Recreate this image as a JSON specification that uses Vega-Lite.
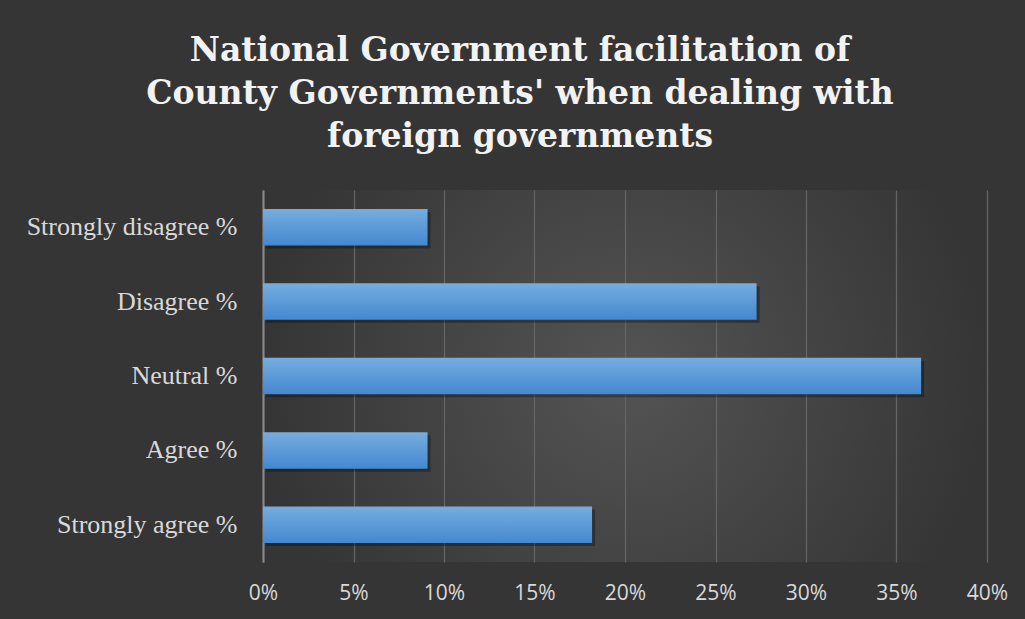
{
  "$schema": "https://vega.github.io/schema/vega-lite/v6.json",
  "width": 724,
  "height": 372,
  "autosize": {"type": "none"},
  "padding": {"left": 263, "top": 190, "right": 38, "bottom": 57},
  "background": "#353535",
  "title": {
    "text": ["National Government facilitation of", "County Governments' when dealing with", "foreign governments"],
    "font": "DejaVu Serif",
    "fontSize": 33,
    "fontWeight": "bold",
    "color": "#f2f2f2",
    "anchor": "middle",
    "dx": -105,
    "offset": 36,
    "lineHeight": 43
  },
  "data": {
    "values": [
      {"category": "Strongly disagree %", "value": 0.0909},
      {"category": "Disagree %", "value": 0.2727},
      {"category": "Neutral %", "value": 0.3636},
      {"category": "Agree %", "value": 0.0909},
      {"category": "Strongly agree %", "value": 0.1818}
    ]
  },
  "layer": [
    {
      "mark": {"type": "bar", "color": "#000000", "opacity": 0.3, "xOffset": 3, "yOffset": 3},
      "encoding": {
        "y": {"field": "category", "type": "nominal", "sort": null},
        "x": {"field": "value", "type": "quantitative"}
      }
    },
    {
      "mark": {
        "type": "bar",
        "color": {
          "gradient": "linear",
          "x1": 0, "y1": 0, "x2": 0, "y2": 1,
          "stops": [
            {"offset": 0, "color": "#76addf"},
            {"offset": 1, "color": "#4488cf"}
          ]
        }
      },
      "encoding": {
        "y": {
          "field": "category",
          "type": "nominal",
          "sort": null,
          "scale": {"paddingInner": 0.51, "paddingOuter": 0.255},
          "axis": {
            "title": null,
            "labelFont": "Liberation Serif",
            "labelFontSize": 26,
            "labelColor": "#d9d9d9",
            "labelPadding": 26,
            "labelLimit": 400,
            "ticks": false,
            "domain": true,
            "domainColor": "#8c8c8c",
            "domainWidth": 2,
            "grid": false
          }
        },
        "x": {
          "field": "value",
          "type": "quantitative",
          "scale": {"domain": [0, 0.4]},
          "axis": {
            "title": null,
            "format": ".0%",
            "values": [0, 0.05, 0.1, 0.15, 0.2, 0.25, 0.3, 0.35, 0.4],
            "labelFont": "Open Sans",
            "labelFontSize": 21,
            "labelColor": "#d9d9d9",
            "labelPadding": 20,
            "labelFlush": false,
            "labelOverlap": false,
            "ticks": false,
            "domain": false,
            "grid": true,
            "gridColor": "#646464",
            "gridWidth": 1.3
          }
        }
      }
    }
  ],
  "config": {
    "view": {
      "stroke": null,
      "fill": {
        "gradient": "radial",
        "x1": 0.5, "y1": 0.5, "r1": 0, "x2": 0.5, "y2": 0.5, "r2": 0.5,
        "stops": [
          {"offset": 0, "color": "#545454"},
          {"offset": 1, "color": "#353535"}
        ]
      }
    }
  }
}
